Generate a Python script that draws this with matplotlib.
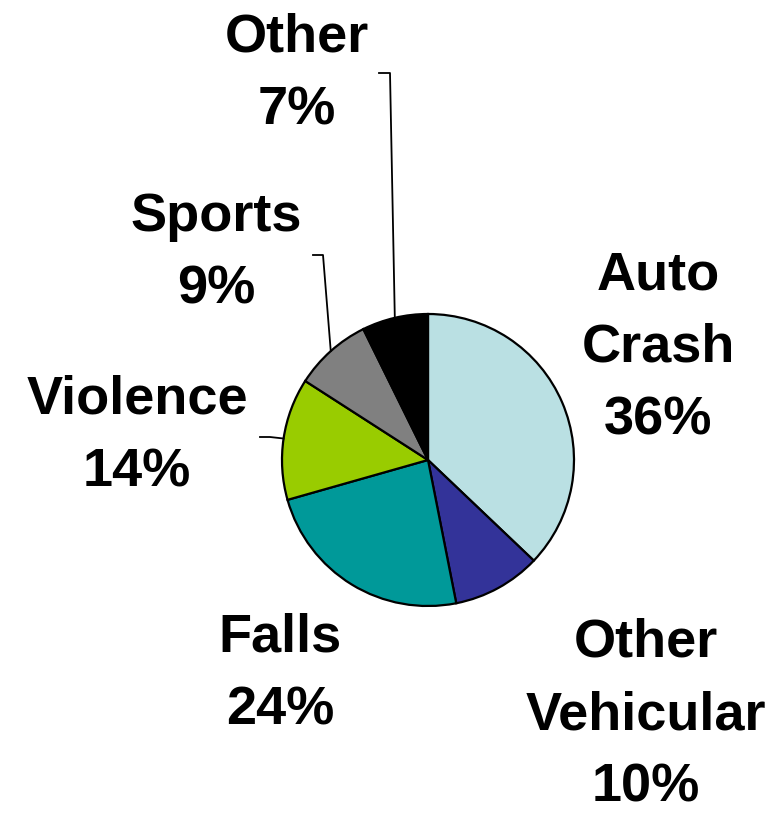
import numpy as np
import matplotlib.pyplot as plt

# injury causes, clockwise from 12 o'clock
causes = ['Auto\nCrash', 'Other\nVehicular', 'Falls', 'Violence', 'Sports', 'Other']
pct_labels = [36, 10, 24, 14, 9, 7]
# slice sizes as drawn in the chart (%)
slice_sizes = [37.1, 9.8, 23.7, 13.5, 8.6, 7.3]
colors = ['#BAE0E3', '#333399', '#009999', '#99CC00', '#808080', '#000000']

# layout (pixel coords, y up)
W, H = 775, 814
cx, cy, R = 428, 354, 146
label_xy = [(658, 466), (646, 99), (280, 140), (137, 378), (216, 561), (297, 740)]
# leader start (horizontal tick) for the small slices
leaders = {3: (260, 270, 377), 4: (313, 323, 559), 5: (379, 390, 741)}

fig = plt.figure(figsize=(W / 100, H / 100), dpi=100)
ax = fig.add_axes([0, 0, 1, 1])

wedges, _ = ax.pie(slice_sizes, colors=colors, startangle=90, counterclock=False,
                   center=(cx, cy), radius=R,
                   wedgeprops=dict(edgecolor='black', linewidth=1.6))

for i, (name, v) in enumerate(zip(causes, pct_labels)):
    ax.text(label_xy[i][0], label_xy[i][1], f'{name}\n{v}%', ha='center', va='center',
            multialignment='center', fontsize=39, fontweight='bold',
            family='Liberation Sans', linespacing=1.57)

# leader lines to the middle of each small slice's rim
for i, (x0, x1, y0) in leaders.items():
    w = wedges[i]
    mid = np.deg2rad((w.theta1 + w.theta2) / 2)
    ex, ey = cx + R * np.cos(mid), cy + R * np.sin(mid)
    ax.plot([x0, x1, ex], [y0, y0, ey], color='black', lw=1.3)

ax.set_xlim(0, W)
ax.set_ylim(0, H)
ax.set_aspect('equal')
ax.axis('off')
fig.savefig('out.png', dpi=100)
